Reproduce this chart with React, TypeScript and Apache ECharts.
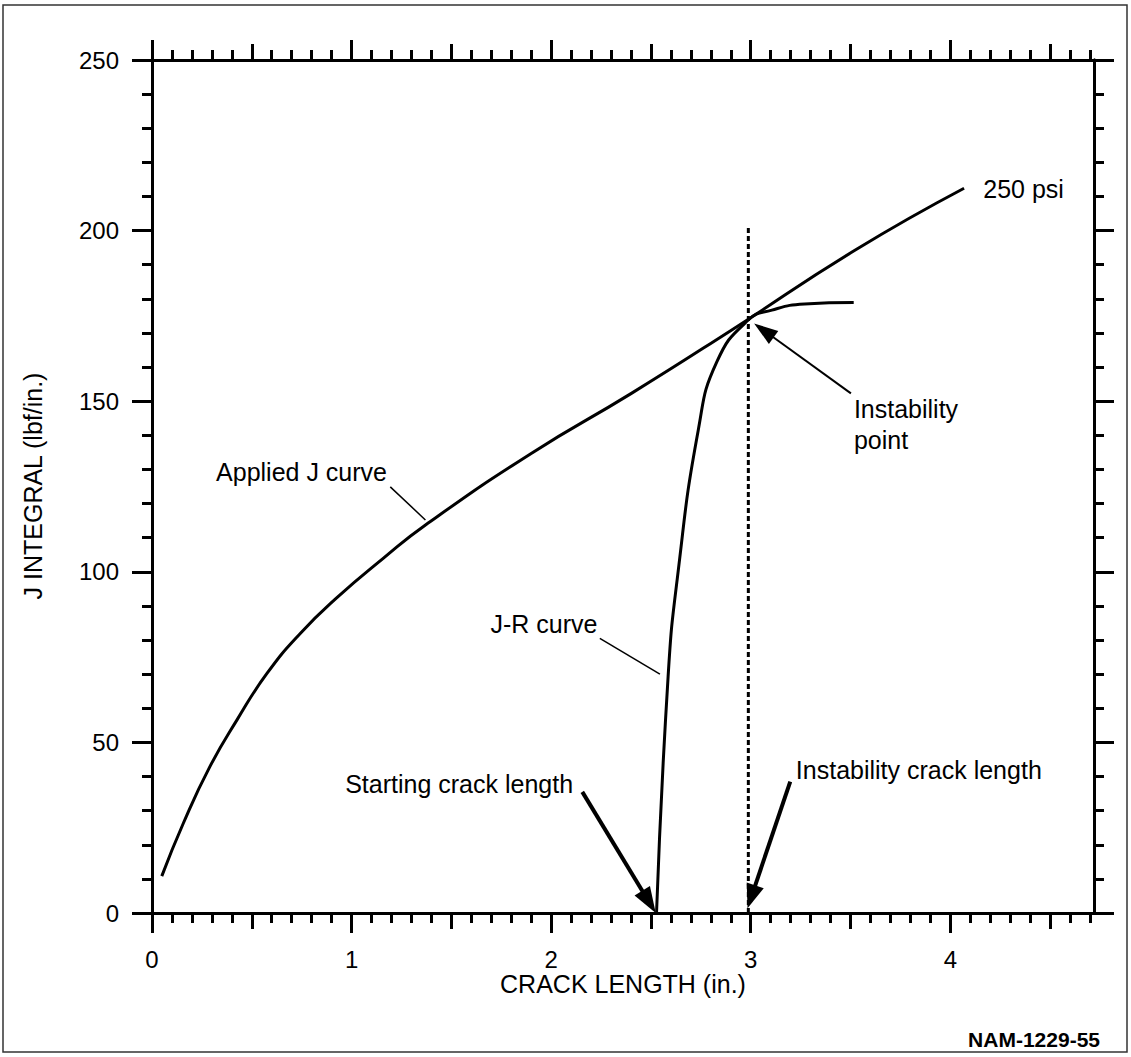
import React, { useEffect, useRef } from "react";
import * as echarts from "echarts";

// ---- axis ticks ----
const X_MAJOR = [0, 1, 2, 3, 4];
const X_MID = [0.5, 1.5, 2.5, 3.5, 4.5];
const X_MINOR = Array.from({ length: 48 }, (_, i) => +(i / 10).toFixed(1));
const X_MAX = 4.72;
const Y_MAX = 250;

// ---- series ----
const appliedJ: [number, number][] = [
  [0.049, 10.8], [0.157, 26.3], [0.29, 42.9], [0.426, 56.6], [0.576, 70.2],
  [0.744, 82], [0.928, 92.5], [1.16, 104], [1.372, 113.8],
  [1.9, 134.7], [2.402, 152.3], [2.905, 170.9], [3.524, 194.3],
  [4.069, 212.4],
];
const jrCurve: [number, number][] = [
  [2.528, 0], [2.586, 69.3], [2.632, 98], [2.737, 141.5], [2.83, 161.5],
  [2.988, 173.8], [3.106, 176.7], [3.27, 178.5], [3.516, 178.9],
];
const instabilityX = 2.988;
const instabilityTop = 201;

// ---- annotations (data coordinates) ----
const labels = [
  { text: "Applied J curve", at: [0.321, 129.2] },
  { text: "J-R curve", at: [1.696, 84.7] },
  { text: "Instability", at: [3.517, 147.7] },
  { text: "point", at: [3.517, 138.6] },
  { text: "Starting crack length", at: [0.968, 37.8] },
  { text: "Instability crack length", at: [3.226, 41.9] },
  { text: "250 psi", at: [4.165, 212.2] },
];
const leaders = [
  { from: [1.194, 124.9], to: [1.37, 115.2] },
  { from: [2.244, 80.5], to: [2.545, 70.0] },
];
const arrows = [
  { from: [2.156, 35.5], to: [2.524, 0], head: 26, half: 9, w: 4 },
  { from: [3.198, 38.5], to: [2.984, 1.4], head: 24, half: 9, w: 4 },
  { from: [3.502, 152.3], to: [3.017, 172.8], head: 24, half: 8, w: 2 },
];

const FONT = '"Liberation Sans", Arial, Helvetica, sans-serif';

function xAxisDef(pos: "top" | "bottom", vals: number[], len: number, labelsOn: boolean) {
  return {
    type: "value",
    position: pos,
    min: 0,
    max: X_MAX,
    splitLine: { show: false },
    axisLine: { show: true, onZero: false, lineStyle: { color: "#000", width: 3 } },
    axisTick: { show: true, customValues: vals, length: len, lineStyle: { color: "#000", width: 3 } },
    axisLabel: labelsOn
      ? { show: true, customValues: X_MAJOR, margin: 34, color: "#000", fontSize: 24, fontFamily: FONT }
      : { show: false },
  };
}

function yAxisDef(pos: "left" | "right", interval: number, len: number, labelsOn: boolean) {
  return {
    type: "value",
    position: pos,
    min: 0,
    max: Y_MAX,
    interval,
    splitLine: { show: false },
    axisLine: { show: true, onZero: false, lineStyle: { color: "#000", width: 3 } },
    axisTick: { show: true, length: len, lineStyle: { color: "#000", width: 3 } },
    axisLabel: labelsOn
      ? { show: true, margin: 33, color: "#000", fontSize: 24, fontFamily: FONT }
      : { show: false },
  };
}

export default function App() {
  const ref = useRef<HTMLDivElement>(null);
  useEffect(() => {
    const chart = echarts.init(ref.current!, null, { renderer: "svg" });
    chart.setOption({
      animation: false,
      backgroundColor: "#fff",
      grid: { left: 152, top: 60, right: 37, bottom: 144 },
      xAxis: [
        xAxisDef("bottom", X_MAJOR, 20, true),
        xAxisDef("bottom", X_MID, 16, false),
        xAxisDef("bottom", X_MINOR, 10, false),
        xAxisDef("top", X_MAJOR, 20, false),
        xAxisDef("top", X_MID, 16, false),
        xAxisDef("top", X_MINOR, 10, false),
      ],
      yAxis: [
        yAxisDef("left", 50, 20, true),
        yAxisDef("left", 10, 10, false),
        yAxisDef("right", 50, 20, false),
        yAxisDef("right", 10, 10, false),
      ],
      series: [
        {
          name: "Applied J curve",
          type: "line",
          data: appliedJ,
          showSymbol: false,
          smooth: 0.5,
          lineStyle: { color: "#000", width: 3 },
        },
        {
          name: "J-R curve",
          type: "line",
          data: jrCurve,
          showSymbol: false,
          smooth: 0.5,
          lineStyle: { color: "#000", width: 3 },
        },
        {
          name: "Instability crack length",
          type: "line",
          data: [[instabilityX, 0], [instabilityX, instabilityTop]],
          showSymbol: false,
          lineStyle: { color: "#000", width: 3, type: [5, 3] },
        },
      ],
    });

    const P = (p: number[]) => chart.convertToPixel({ gridIndex: 0 }, p) as number[];
    const g: any[] = [];
    g.push({
      type: "rect",
      shape: { x: 3, y: 5, width: 1124, height: 1047 },
      style: { fill: "none", stroke: "#333", lineWidth: 1.5 },
      z: 0,
    });
    labels.forEach((l) => {
      const [px, py] = P(l.at);
      g.push({
        type: "text",
        x: px,
        y: py,
        style: {
          text: l.text,
          font: `normal 25px ${FONT}`,
          fill: "#000",
          textAlign: "left",
          textVerticalAlign: "middle",
        },
        z: 10,
      });
    });
    leaders.forEach((l) => {
      const [x1, y1] = P(l.from);
      const [x2, y2] = P(l.to);
      g.push({ type: "line", shape: { x1, y1, x2, y2 }, style: { stroke: "#000", lineWidth: 1.5 }, z: 10 });
    });
    arrows.forEach((a) => {
      const [x1, y1] = P(a.from);
      const [x2, y2] = P(a.to);
      const dx = x2 - x1, dy = y2 - y1;
      const len = Math.hypot(dx, dy);
      const ux = dx / len, uy = dy / len;
      const bx = x2 - ux * a.head, by = y2 - uy * a.head;
      const nx = -uy, ny = ux;
      g.push({ type: "line", shape: { x1, y1, x2: bx + ux * 2, y2: by + uy * 2 }, style: { stroke: "#000", lineWidth: a.w }, z: 10 });
      g.push({
        type: "polygon",
        shape: { points: [[x2, y2], [bx + nx * a.half, by + ny * a.half], [bx - nx * a.half, by - ny * a.half]] },
        style: { fill: "#000" },
        z: 10,
      });
    });
    g.push({
      type: "text",
      x: 33,
      y: 486,
      rotation: Math.PI / 2,
      style: {
        text: "J INTEGRAL (lbf/in.)",
        font: `normal 25px ${FONT}`,
        fill: "#000",
        textAlign: "center",
        textVerticalAlign: "middle",
      },
      z: 10,
    });
    g.push({
      type: "text",
      x: 623,
      y: 984,
      style: {
        text: "CRACK LENGTH (in.)",
        font: `normal 25px ${FONT}`,
        fill: "#000",
        textAlign: "center",
        textVerticalAlign: "middle",
      },
      z: 10,
    });
    g.push({
      type: "text",
      x: 1100,
      y: 1039,
      style: {
        text: "NAM-1229-55",
        font: `bold 21px ${FONT}`,
        fill: "#000",
        textAlign: "right",
        textVerticalAlign: "middle",
      },
      z: 10,
    });
    chart.setOption({ graphic: g });
    return () => chart.dispose();
  }, []);
  return (
    <div
      ref={ref}
      style={{ position: "absolute", left: 0, top: 0, width: 1131, height: 1057 }}
    />
  );
}
